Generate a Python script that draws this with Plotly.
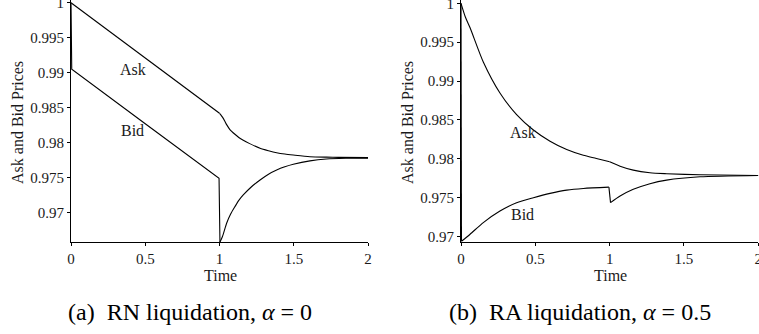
import plotly.graph_objects as go

# ---- data ----
# Panel (a): RN liquidation, alpha = 0
a_ask_t = [0.0, 0.5, 1.0, 1.01, 1.02, 1.035, 1.048, 1.07, 1.104, 1.13, 1.16, 1.2, 1.273, 1.33, 1.385, 1.44, 1.497,
           1.609, 1.72, 1.8, 2.0]
a_ask_v = [1.0, 0.9921, 0.9842, 0.98395, 0.98365, 0.98310, 0.98258, 0.98188, 0.98120, 0.98075, 0.98035, 0.9799,
           0.9792, 0.97885, 0.97857, 0.97838, 0.97824, 0.9780, 0.97793, 0.97790, 0.97786]
a_bid_t = [0.0, 0.005, 0.5, 0.997, 1.003, 1.02, 1.048, 1.075, 1.104, 1.13, 1.16, 1.21, 1.273, 1.33, 1.385, 1.44,
           1.497, 1.609, 1.72, 1.85, 2.0]
a_bid_v = [1.0, 0.9905, 0.9827, 0.9749, 0.9658, 0.9666, 0.96849, 0.9698, 0.97086, 0.97175, 0.97253, 0.9736,
           0.97467, 0.9755, 0.9761, 0.97655, 0.97691, 0.9774, 0.97767, 0.97777, 0.9778]

# Panel (b): RA liquidation, alpha = 0.5
b_ask_t = [0.0, 0.03, 0.061, 0.15, 0.262, 0.374, 0.487, 0.599, 0.711, 0.823, 0.911, 1.0, 1.07, 1.159, 1.271,
           1.383, 1.608, 2.0]
b_ask_v = [1.0, 0.9982, 0.99685, 0.99245, 0.98846, 0.98568, 0.9837, 0.98226, 0.98119, 0.98045, 0.98005, 0.97962,
           0.97905, 0.97854, 0.9782, 0.97808, 0.97795, 0.97786]
b_bid_t = [0.0, 0.003, 0.061, 0.15, 0.262, 0.374, 0.487, 0.599, 0.711, 0.823, 0.995, 1.006, 1.07, 1.159, 1.271,
           1.383, 1.608, 2.0]
b_bid_v = [1.0, 0.9694, 0.9703, 0.9718, 0.97328, 0.97436, 0.975, 0.97555, 0.97597, 0.97619, 0.97636, 0.97436,
           0.97521, 0.97607, 0.9768, 0.97726, 0.97769, 0.97786]

x_ticks = [0, 0.5, 1, 1.5, 2]
x_ticklabels = ["0", "0.5", "1", "1.5", "2"]
y_ticks = [0.97, 0.975, 0.98, 0.985, 0.99, 0.995, 1.0]
y_ticklabels = ["0.97", "0.975", "0.98", "0.985", "0.99", "0.995", "1"]

captions = ["(a)\u2002RN liquidation, <i>α</i> = 0", "(b)\u2002RA liquidation, <i>α</i> = 0.5"]
x_title = "Time"
y_title = "Ask and Bid Prices"

# ---- figure ----
W, H = 759, 334
FONT = "Liberation Serif"
INK = "#1a1a1a"
line = dict(color="black", width=1.1)

fig = go.Figure()


def add_series(t, v, xa, ya, pieces):
    """pieces: list of (t_start, t_end, shape) drawn from the same data arrays."""
    for t0, t1, shape in pieces:
        idx = [i for i, tt in enumerate(t) if t0 <= tt <= t1]
        tr = dict(x=[t[i] for i in idx], y=[v[i] for i in idx], mode="lines",
                  line=dict(line, shape=shape) if shape == "linear" else dict(line, shape="spline", smoothing=0.7),
                  xaxis=xa, yaxis=ya, showlegend=False, hoverinfo="skip")
        fig.add_trace(go.Scatter(**tr))


add_series(a_ask_t, a_ask_v, "x", "y", [(0, 1.0, "linear"), (1.0, 2.0, "spline")])
add_series(a_bid_t, a_bid_v, "x", "y", [(0, 1.003, "linear"), (1.003, 2.0, "spline")])
add_series(b_ask_t, b_ask_v, "x2", "y2", [(0, 1.0, "spline"), (1.0, 2.0, "spline")])
add_series(b_bid_t, b_bid_v, "x2", "y2", [(0, 0.003, "linear"), (0.003, 0.995, "spline"),
                                           (0.995, 1.006, "linear"), (1.006, 2.0, "spline")])


def px_x(p):
    return p / W


def px_y(p):
    return 1 - p / H


ax_common = dict(showgrid=False, zeroline=False, showline=True, linecolor="black", linewidth=1,
                 ticks="outside", ticklen=3, tickcolor="black", tickwidth=1, ticklabeloverflow="allow",
                 automargin=False, tickfont=dict(family=FONT, size=15, color=INK))

fig.update_layout(
    width=W, height=H,
    margin=dict(l=0, r=0, t=0, b=0, autoexpand=False),
    paper_bgcolor="white", plot_bgcolor="white",
    hovermode=False,
    xaxis=dict(domain=[px_x(71), px_x(368)], range=[0, 2], anchor="y",
               tickvals=x_ticks, ticktext=x_ticklabels, **ax_common),
    yaxis=dict(domain=[px_y(242), 1], range=[0.96581, 1.000386], anchor="x",
               tickvals=y_ticks, ticktext=y_ticklabels, **ax_common),
    xaxis2=dict(domain=[px_x(461), px_x(758.3)], range=[0, 2], anchor="y2",
                tickvals=x_ticks, ticktext=x_ticklabels, **ax_common),
    yaxis2=dict(domain=[px_y(242), 1], range=[0.9693, 1.000424], anchor="x2",
                tickvals=y_ticks, ticktext=y_ticklabels, **ax_common),
)

ann = []
lab_font = dict(family=FONT, size=16, color=INK)
# in-plot labels
for xr, yr, xx, yy, txt in [("x", "y", 0.418, 0.9904, "Ask"), ("x", "y", 0.415, 0.98167, "Bid"),
                             ("x2", "y2", 0.419, 0.98333, "Ask"), ("x2", "y2", 0.415, 0.97286, "Bid")]:
    ann.append(dict(xref=xr, yref=yr, x=xx, y=yy, text=txt, showarrow=False, font=lab_font,
                    xanchor="center", yanchor="middle"))
# axis titles
for cx in (220.7, 610):
    ann.append(dict(xref="paper", yref="paper", x=px_x(cx), y=px_y(275), text=x_title, showarrow=False,
                    font=lab_font, xanchor="center", yanchor="middle"))
for cx in (17, 407):
    ann.append(dict(xref="paper", yref="paper", x=px_x(cx), y=px_y(123), text=y_title, showarrow=False,
                    font=lab_font, textangle=-90, xanchor="center", yanchor="middle"))
# captions
for cx, txt in zip((190, 580), captions):
    ann.append(dict(xref="paper", yref="paper", x=px_x(cx), y=px_y(312), text=txt, showarrow=False,
                    font=dict(family=FONT, size=24, color="black"), xanchor="center", yanchor="middle"))
fig.update_layout(annotations=ann)

fig.write_html("out.html", config={"displayModeBar": False, "staticPlot": True},
               post_script="document.body.style.margin='0px';document.body.style.overflow='hidden';")
